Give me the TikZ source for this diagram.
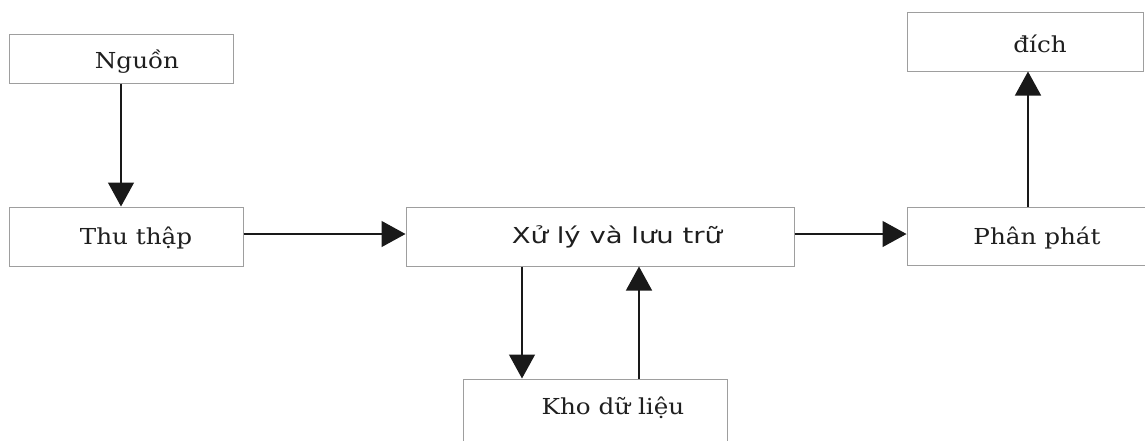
\documentclass[tikz,border=0pt]{standalone}
\usepackage{fontspec}
\setmainfont{DejaVu Serif}
\newfontfamily\serifwide[FakeStretch=1.12]{DejaVu Serif}
\newfontfamily\sanswide[FakeStretch=1.25]{DejaVu Sans}
\usetikzlibrary{arrows.meta}
\begin{document}
\begin{tikzpicture}[x=1pt,y=-1pt,
  box/.style={draw=black!38, line width=1pt},
  lbl/.style={font=\serifwide\fontsize{22}{26}\selectfont, text=black!88, inner sep=0pt, anchor=center},
  conn/.style={draw=black!90, line width=1.3pt, -{Triangle[length=24pt,width=26pt]}}]
\useasboundingbox (0,0) rectangle (1145,440);
% boxes
\node[box, minimum width=224pt, minimum height=49pt] (nguon) at (121,58.5) {};
\node[box, minimum width=234pt, minimum height=59pt] (thu) at (126,236.5) {};
\node[box, minimum width=388pt, minimum height=59pt] (xuly) at (600,236.5) {};
\node[box, minimum width=250pt, minimum height=58pt] (phan) at (1032,236) {};
\node[box, minimum width=236pt, minimum height=59pt] (dich) at (1025,41.5) {};
\node[box, minimum width=264pt, minimum height=80pt] (kho) at (595,419) {};
% labels
\node[lbl] (tnguon) at (137,62) {Nguồn};
\node[lbl] (tthu) at (136,238) {Thu thập};
\node[lbl, font=\sanswide\fontsize{22}{26}\selectfont] (txuly) at (617,237) {Xử lý và lưu trữ};
\node[lbl] (tphan) at (1037,238) {Phân phát};
\node[lbl] (tdich) at (1040,44) {đích};
\node[lbl] (tkho) at (613,408) {Kho dữ liệu};
% connectors
\draw[conn] (nguon.south -| 121,0) -- (thu.north -| 121,0);
\draw[conn] (thu.east |- 0,234) -- (xuly.west |- 0,234);
\draw[conn] (xuly.east |- 0,234) -- (phan.west |- 0,234);
\draw[conn] (phan.north -| 1028,0) -- (dich.south -| 1028,0);
\draw[conn] (xuly.south -| 522,0) -- (kho.north -| 522,0);
\draw[conn] (kho.north -| 639,0) -- (xuly.south -| 639,0);
\end{tikzpicture}
\end{document}
